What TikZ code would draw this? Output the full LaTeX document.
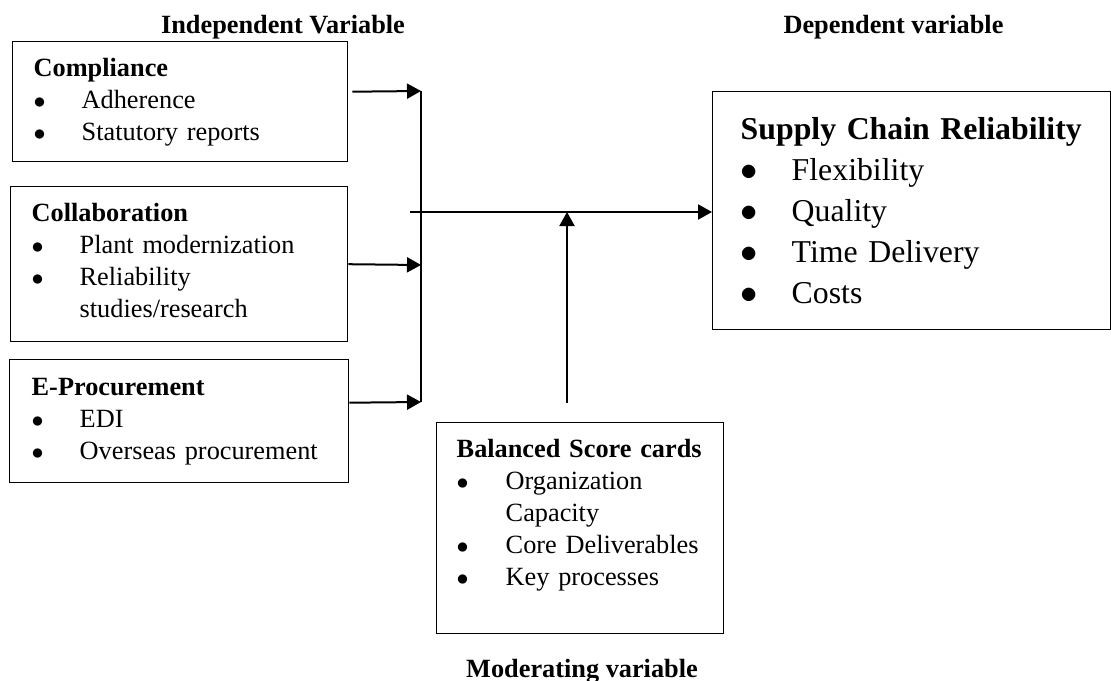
\documentclass[tikz,border=0pt]{standalone}
\usepackage{fontspec}
\setmainfont{Liberation Serif}
\usetikzlibrary{arrows.meta}
\newcommand{\bul}[2][24pt]{\makebox[#1][l]{$\bullet$}#2}
\newcommand{\topgap}[1]{\rule{0pt}{#1}}
\newcommand{\botgap}[1]{\rule[-#1]{0pt}{#1}}

\begin{document}
\begin{tikzpicture}[x=0.5pt,y=-0.5pt,
	varbox/.style={draw,line width=0.7pt,anchor=north west,inner ysep=0pt,align=left,font=\fontsize{13.15}{16}\selectfont},
	head/.style={anchor=base,font=\fontsize{13.15}{16}\selectfont\bfseries},
	flow/.style={line width=1pt,-{Triangle[length=7pt,width=7.5pt]}}]
		\useasboundingbox (0,0) rectangle (1111,680);
		% headings
		\node[head] (indep) at (283,33) {Independent Variable};
		\node[head] (dep) at (893.5,33) {Dependent variable};
		\node[head] (moder) at (582,677) {Moderating variable};
		% independent variables
		\node[varbox,inner xsep=10.5pt,text width=146.5pt] (comp) at (12,41) {\topgap{17.5pt}\textbf{Compliance}\\ \bul{Adherence}\\ \bul{Statutory reports}\botgap{10.5pt}};
		\node[varbox,inner xsep=10.5pt,text width=147.5pt] (coll) at (10,186) {\topgap{17.5pt}\textbf{Collaboration}\\ \bul{Plant modernization}\\ \bul{Reliability}\\ \hspace*{24pt}studies/research\botgap{12pt}};
		\node[varbox,inner xsep=11pt,text width=147.5pt] (eproc) at (9,359) {\topgap{18pt}\textbf{E-Procurement}\\ \bul{EDI}\\ \bul{Overseas procurement}\botgap{11.5pt}};
		% dependent and moderating variables
		\node[varbox,inner xsep=14pt,text width=171pt,font=\fontsize{15.9}{20.5}\selectfont] (scr) at (712,91) {\topgap{24pt}\textbf{Supply Chain Reliability}\\ \bul[25.5pt]{Flexibility}\\ \bul[25.5pt]{Quality}\\ \bul[25.5pt]{Time Delivery}\\ \bul[25.5pt]{Costs}\botgap{13pt}};
		\node[varbox,inner xsep=10pt,text width=123.5pt] (bsc) at (436,422) {\topgap{17.5pt}\textbf{Balanced Score cards}\\ \bul[24.5pt]{Organization}\\ \hspace*{24.5pt}Capacity\\ \bul[24.5pt]{Core Deliverables}\\ \bul[24.5pt]{Key processes}\botgap{24pt}};
		% connectors
		\coordinate (in1) at (421,91);
		\coordinate (in2) at (421,265);
		\coordinate (in3) at (421,402);
		\coordinate (jn) at (410,212);
		\coordinate (mod) at (567,403);
		\draw[line width=0.8pt] (in1) -- (in3);
		\draw[flow] ([xshift=2pt,yshift=5pt]comp.east) -- (in1);
		\draw[flow] (coll.east) -- (in2);
		\draw[flow] ([yshift=9.25pt]eproc.east) -- (in3);
		\draw[flow] (jn) -- (jn -| scr.west);
		\draw[flow] (mod) -- (mod |- jn);
	\end{tikzpicture}
\end{document}
